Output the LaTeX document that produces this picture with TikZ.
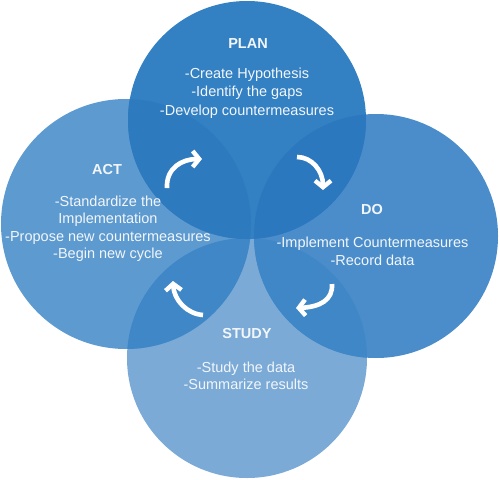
\documentclass[tikz,border=0pt]{standalone}
\usepackage{fontspec}
\setmainfont{Liberation Sans}
\usetikzlibrary{arrows.meta}
\definecolor{cstudy}{HTML}{7BAAD7}
\definecolor{cact}{HTML}{5D9AD0}
\definecolor{cdo}{HTML}{4B8DCA}
\definecolor{cas}{HTML}{3F87C6}
\definecolor{cds}{HTML}{3F87C6}
\definecolor{cplan}{HTML}{3380C3}
\definecolor{cpa}{HTML}{2E7ABF}
\definecolor{cpd}{HTML}{2C78BE}
\definecolor{txt}{HTML}{F2F6FA}
\tikzset{
  title/.style={text=txt, font=\fontsize{14.5}{17.5}\selectfont\bfseries, inner sep=0pt},
  body/.style={text=txt, font=\fontsize{14.5}{17.5}\selectfont, align=center, inner sep=0pt},
  cyc/.style={draw=white, line width=4.6pt, -{Straight Barb[length=6.5pt,width=16pt,line width=4.4pt]}}
}
\begin{document}
\begin{tikzpicture}[x=1pt,y=-1pt]
\useasboundingbox (0,0) rectangle (500,479);
% circles
\fill[cstudy] (247,358) circle[radius=120pt];
\fill[cact] (126,224) circle[radius=125pt];
\fill[cdo] (376,236) circle[radius=122pt];
\begin{scope}
  \clip (126,224) circle[radius=125pt];
  \fill[cas] (247,358) circle[radius=120pt];
\end{scope}
\begin{scope}
  \clip (376,236) circle[radius=122pt];
  \fill[cds] (247,358) circle[radius=120pt];
\end{scope}
\fill[cplan] (247,120) circle[radius=119pt];
\begin{scope}
  \clip (247,120) circle[radius=119pt];
  \fill[cpa] (126,224) circle[radius=125pt];
  \fill[cpd] (376,236) circle[radius=122pt];
\end{scope}
% texts
\node[title] (plan) at (248,44) {PLAN};
\node[body, font=\fontsize{14.5}{18.7}\selectfont] (plantxt) at (247,93) {-Create Hypothesis\\-Identify the gaps\\-Develop countermeasures};
\node[title] (act) at (107,170) {ACT};
\node[body] (acttxt) at (108,228.5) {-Standardize the\\Implementation\\-Propose new countermeasures\\-Begin new cycle};
\node[title] (do) at (372,210) {DO};
\node[body] (dotxt) at (372.5,251.5) {-Implement Countermeasures\\-Record data};
\node[title] (study) at (247,334) {STUDY};
\node[body, font=\fontsize{14.5}{16.5}\selectfont] (studytxt) at (246,376) {-Study the data\\-Summarize results};
% cycle arrows
\coordinate (a1s) at (167,188);
\coordinate (a1e) at (202,159);
\coordinate (a2s) at (297,157);
\coordinate (a2e) at (323,190);
\coordinate (a3s) at (332,284);
\coordinate (a3e) at (296,308);
\coordinate (a4s) at (203,315);
\coordinate (a4e) at (173,281);
\draw[cyc] (a1s) .. controls (166,168) and (182,159) .. (a1e);
\draw[cyc] (a2s) .. controls (312,157) and (323,171) .. (a2e);
\draw[cyc] (a3s) .. controls (333,300) and (320,307) .. (a3e);
\draw[cyc] (a4s) .. controls (187,314) and (174,300) .. (a4e);
\end{tikzpicture}
\end{document}
